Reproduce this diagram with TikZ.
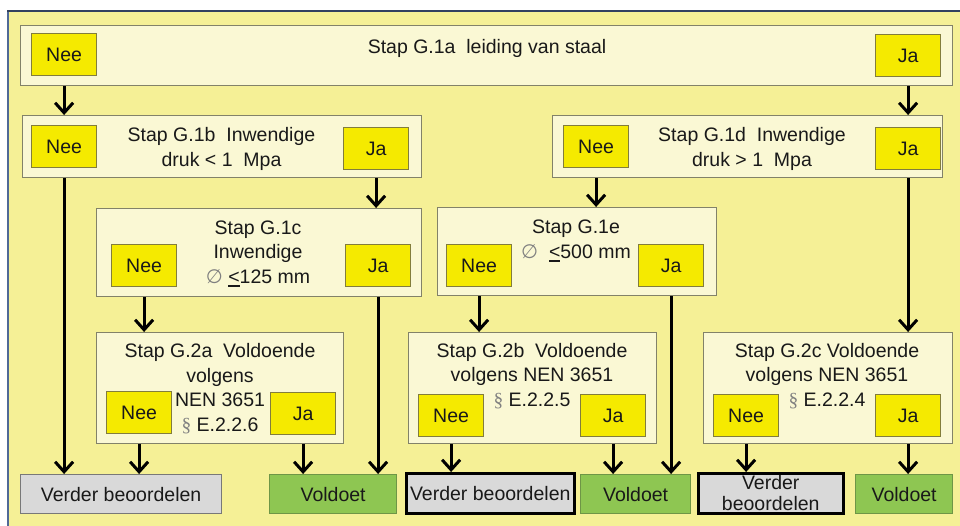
\documentclass[tikz,border=0pt]{standalone}
\usepackage{fontspec}
\setmainfont{Liberation Sans}
\newfontfamily\symfont{DejaVu Sans}
\newfontfamily\serfont{Liberation Serif}
\usetikzlibrary{arrows.meta}
\definecolor{frameyel}{RGB}{245,240,150}
\definecolor{framebd}{RGB}{50,65,95}
\definecolor{framebdl}{RGB}{80,105,150}
\definecolor{cream}{RGB}{250,248,212}
\definecolor{creambd}{RGB}{130,130,105}
\definecolor{btnyel}{RGB}{245,234,0}
\definecolor{btnbd}{RGB}{130,125,60}
\definecolor{okgreen}{RGB}{142,198,82}
\definecolor{okbd}{RGB}{110,150,70}
\definecolor{todo}{RGB}{217,217,217}
\definecolor{todobd}{RGB}{120,120,120}
\definecolor{ink}{RGB}{25,25,25}
\newcommand\mkbox[6]{\node[#6,anchor=north west,minimum width={(#4-#2)*1pt},minimum height={(#5-#3)*1pt}] (#1) at (#2,#3) {};}
\newcommand\mkbtn[4]{\node[btn,anchor=north west] (#1) at (#2,#3) {#4};}
\newcommand\mkout[7]{\node[#6,anchor=north west,minimum width={(#4-#2)*1pt},minimum height={(#5-#3)*1pt}] (#1) at (#2,#3) {#7};}
\newcommand\diam{{\symfont\color{gray}∅}}
\newcommand\uless{\mbox{\setbox0=\hbox{<}\rlap{\rule[-3.5pt]{\wd0}{1.2pt}}\box0}}
\newcommand\para{{\serfont\color{gray}§}}
\begin{document}
\begin{tikzpicture}[x=1pt,y=-1pt,
 font=\fontsize{19.5}{24.5}\selectfont,
 stepbox/.style={draw=creambd,fill=cream,line width=1pt,inner sep=0},
 btn/.style={draw=btnbd,fill=btnyel,line width=1.2pt,minimum width=65pt,minimum height=42pt,inner sep=0,text=ink},
 okbox/.style={draw=okbd,fill=okgreen,line width=1.2pt,inner sep=0,text=ink},
 todobox/.style={draw=todobd,fill=todo,line width=1.2pt,inner sep=0,text=ink},
 todoboxk/.style={draw=black,fill=todo,line width=2.5pt,inner sep=0,text=ink},
 lbl/.style={inner sep=0,align=center,text=ink,anchor=base},
 arr/.style={line width=3pt,-{Straight Barb[length=10pt,width=18pt]}},
 ]
\useasboundingbox (0,0) rectangle (960,525);
\fill[white] (0,0) rectangle (960,525);
\fill[frameyel] (8,11) rectangle (975,540);
\draw[framebdl,line width=2pt] (8,540) -- (8,11);
\draw[framebd,line width=2pt] (7,11) -- (975,11);

% step boxes
\mkbox{g1a}{20}{25}{952}{85}{stepbox}
\mkbox{g1b}{22}{115}{421}{177}{stepbox}
\mkbox{g1d}{552}{115}{942}{177}{stepbox}
\mkbox{g1c}{96}{208}{421}{296}{stepbox}
\mkbox{g1e}{437}{207}{716}{295}{stepbox}
\mkbox{g2a}{96}{332}{343}{443}{stepbox}
\mkbox{g2b}{408}{332}{656}{443}{stepbox}
\mkbox{g2c}{703}{332}{952}{443}{stepbox}

% buttons
\mkbtn{g1aNee}{31}{33}{Nee}
\mkbtn{g1aJa}{875}{34}{Ja}
\mkbtn{g1bNee}{31}{125}{Nee}
\mkbtn{g1bJa}{343}{127}{Ja}
\mkbtn{g1dNee}{563}{125}{Nee}
\mkbtn{g1dJa}{875}{127}{Ja}
\mkbtn{g1cNee}{111}{244}{Nee}
\mkbtn{g1cJa}{345}{244}{Ja}
\mkbtn{g1eNee}{446}{244}{Nee}
\mkbtn{g1eJa}{638}{244}{Ja}
\mkbtn{g2aNee}{106}{391}{Nee}
\mkbtn{g2aJa}{270}{392}{Ja}
\mkbtn{g2bNee}{418}{394}{Nee}
\mkbtn{g2bJa}{580}{394}{Ja}
\mkbtn{g2cNee}{713}{394}{Nee}
\mkbtn{g2cJa}{875}{394}{Ja}

% outcomes
\mkout{v1}{20}{474}{221}{513}{todobox}{Verder beoordelen}
\mkout{o1}{269}{474}{396}{513}{okbox}{Voldoet}
\mkout{v2}{405}{472}{573}{512}{todoboxk}{Verder beoordelen}
\mkout{o2}{580}{474}{690}{513}{okbox}{Voldoet}
\mkout{v3}{697}{472}{842}{512}{todoboxk,align=center,font=\fontsize{19.5}{21}\selectfont}{Verder\\beoordelen}
\mkout{o3}{855}{474}{952}{513}{okbox}{Voldoet}

% texts (base anchor = baseline of last line)
\node[lbl] (t1a) at (487,53) {Stap G.1a\ \ leiding van staal};
\node[lbl] (t1b) at (221.5,166) {Stap G.1b\ \ Inwendige\\druk < 1\ \ Mpa};
\node[lbl] (t1d) at (752,166) {Stap G.1d\ \ Inwendige\\druk > 1\ \ Mpa};
\node[lbl] (t1c) at (258,283) {Stap G.1c\\Inwendige\\\diam\ \uless125 mm};
\node[lbl] (t1e) at (576,258) {Stap G.1e\\\diam\ \ \uless500 mm};
\node[lbl] (t2a) at (220,431) {Stap G.2a\ \ Voldoende\\volgens\\NEN 3651\\\para\ E.2.2.6};
\node[lbl] (t2b) at (532,406) {Stap G.2b\ \ Voldoende\\volgens NEN 3651\\\para\ E.2.2.5};
\node[lbl] (t2c) at (827,406) {Stap G.2c Voldoende\\volgens NEN 3651\\\para\ E.2.2.4};

% connectors
\draw[arr] (g1aNee |- g1a.south) -- (g1aNee |- g1b.north);
\draw[arr] (g1aJa |- g1a.south) -- (g1aJa |- g1d.north);
\draw[arr] (g1bNee |- g1b.south) -- (g1bNee |- v1.north);
\draw[arr] (g1bJa |- g1b.south) -- (g1bJa |- g1c.north);
\draw[arr] (g1cNee |- g1c.south) -- (g1cNee |- g2a.north);
\draw[arr] (g1cJa |- g1c.south) -- (g1cJa |- o1.north);
\draw[arr] (g2aNee |- g2a.south) -- (g2aNee |- v1.north);
\draw[arr] (g2aJa |- g2a.south) -- (g2aJa |- o1.north);
\draw[arr] (g1dNee |- g1d.south) -- (g1dNee |- g1e.north);
\draw[arr] (g1dJa |- g1d.south) -- (g1dJa |- g2c.north);
\draw[arr] (g1eNee |- g1e.south) -- (g1eNee |- g2b.north);
\draw[arr] (g1eJa |- g1e.south) -- (g1eJa |- o2.north);
\draw[arr] (g2bNee |- g2b.south) -- (g2bNee |- v2.north);
\draw[arr] (g2bJa |- g2b.south) -- (g2bJa |- o2.north);
\draw[arr] (g2cNee |- g2c.south) -- (g2cNee |- v3.north);
\draw[arr] (g2cJa |- g2c.south) -- (g2cJa |- o3.north);
\end{tikzpicture}
\end{document}
